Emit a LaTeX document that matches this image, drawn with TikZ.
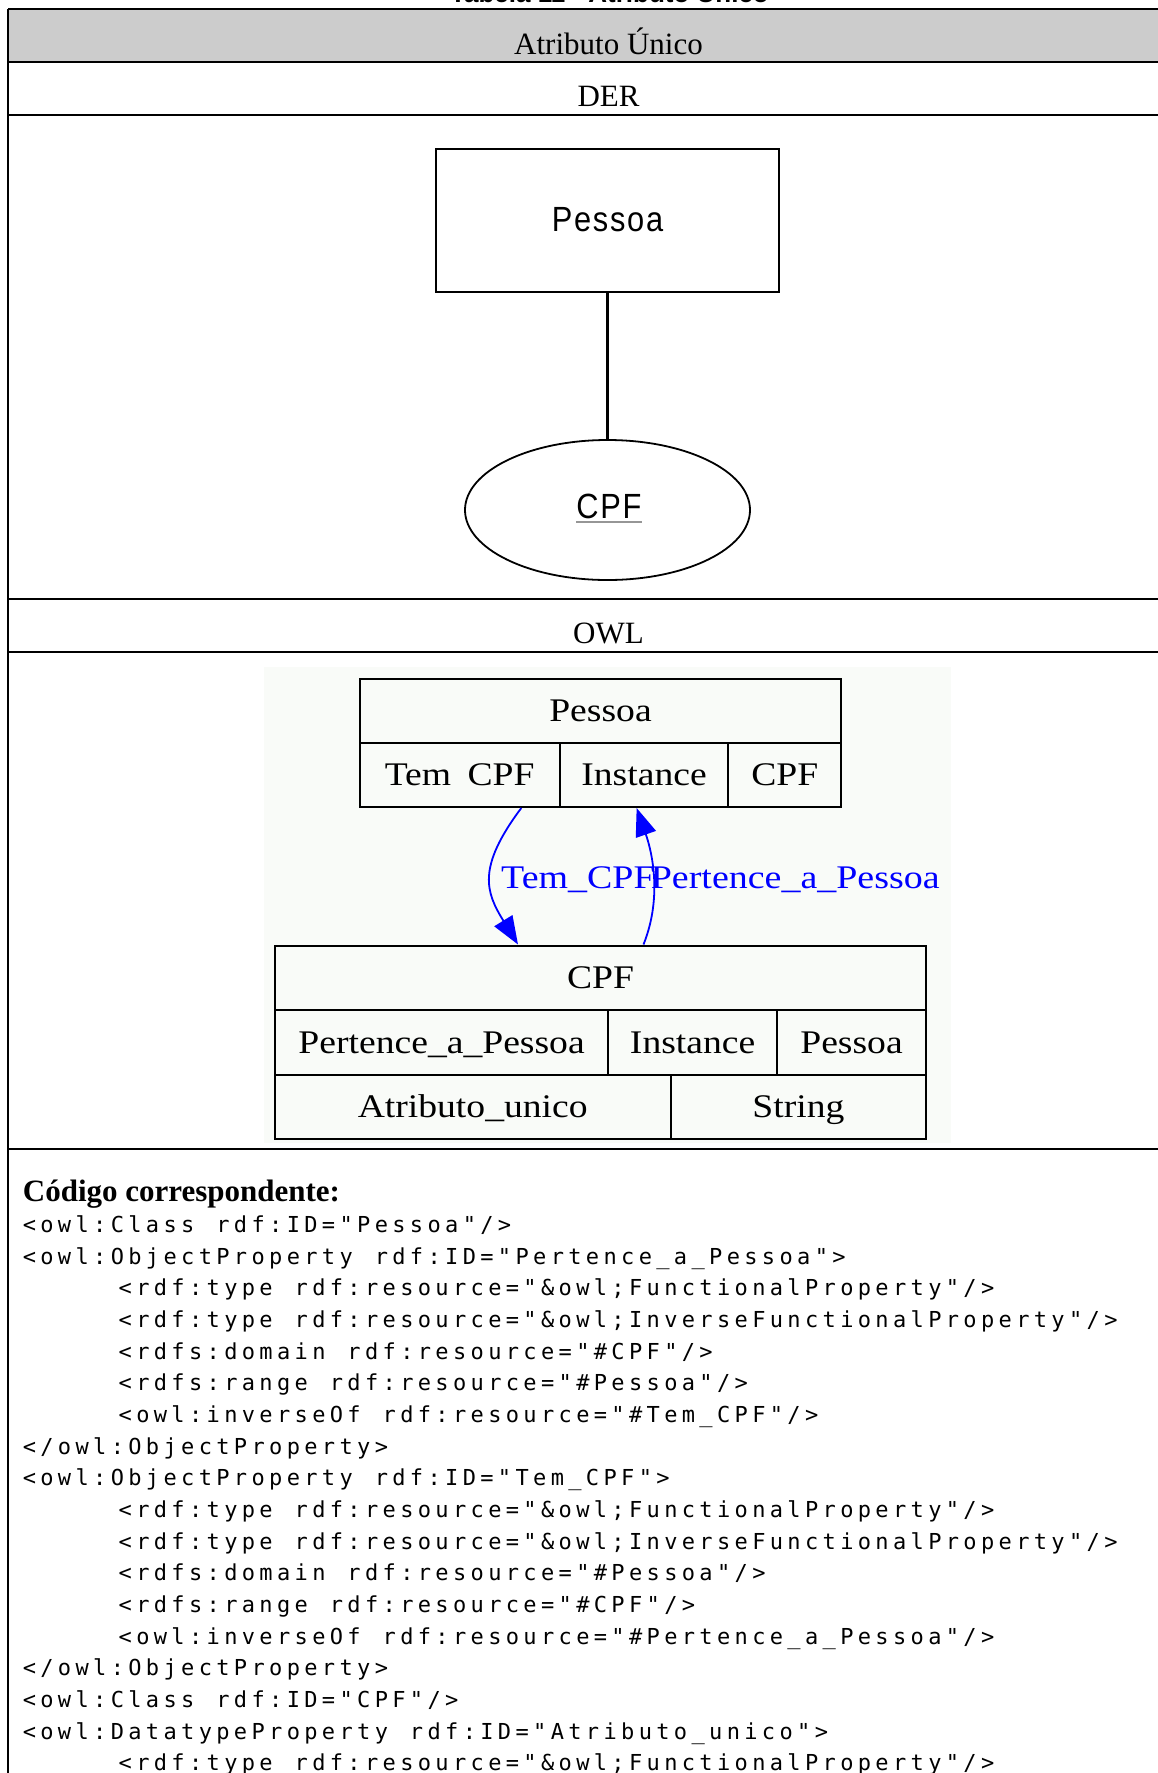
\documentclass[tikz,border=0pt]{standalone}
\usepackage{fontspec}
\setmainfont{Liberation Serif}
\newfontfamily\erfont{Liberation Sans}[FakeStretch=0.88,LetterSpace=5]
\newfontfamily\recfont{Liberation Serif}[FakeStretch=1.14]
\newfontfamily\relfont{Liberation Serif}[FakeStretch=1.15]
\newfontfamily\codefont{DejaVu Sans Mono}[LetterSpace=19.8]
\newfontfamily\capfont{Liberation Sans}
\usetikzlibrary{arrows.meta,shapes.geometric}
\definecolor{headgray}{RGB}{204,204,204}
\definecolor{owlbg}{RGB}{249,251,248}
\definecolor{relblue}{RGB}{0,0,255}
\definecolor{ulgray}{RGB}{150,150,150}
% one character cell of the listing plus the tracking lost at a word end
\newcommand\csp{\hspace{21.95pt}}
\tikzset{
  rule/.style={line width=2pt},
  headtext/.style={font=\fontsize{31pt}{31pt}\selectfont, anchor=base, inner sep=0pt},
  erbox/.style={draw, line width=2.6pt, inner sep=0pt,
    font=\erfont\fontsize{35pt}{35pt}\selectfont, text height=22.4pt, text depth=0pt},
  erattr/.style={draw, ellipse, line width=1.8pt, inner sep=0pt},
  ertext/.style={inner sep=0pt, font=\erfont\fontsize{35pt}{35pt}\selectfont, anchor=base},
  erlink/.style={line width=3.8pt},
  cell/.style={draw, line width=2pt, inner sep=0pt,
    font=\recfont\fontsize{33pt}{33pt}\selectfont, text height=21.8pt, text depth=0pt},
  rel/.style={draw=relblue, line width=1.8pt, -{Triangle[length=28pt,width=21pt]}},
  rellabel/.style={text=relblue, inner sep=0pt, font=\relfont\fontsize{33pt}{33pt}\selectfont},
  codeline/.style={anchor=base west, inner sep=0pt, font=\codefont\fontsize{22pt}{22pt}\selectfont},
}
\begin{document}
\begin{tikzpicture}[x=1pt,y=-1pt]
\useasboundingbox (0,0) rectangle (1158,1773);
\clip (0,0) rectangle (1158,1773);
\fill[white] (0,0) rectangle (1158,1773);

% caption above the table
\node[anchor=base, inner sep=0pt, font=\capfont\bfseries\fontsize{26pt}{26pt}\selectfont]
  (caption) at (609.5,2.5) {Tabela 11 - Atributo Único};

% table frame
\fill[headgray] (8,9.3) rectangle (1160,61.7);
\draw[rule] (8,9.3) -- (1160,9.3);
\draw[rule] (8,61.7) -- (1160,61.7);
\draw[rule] (8,114.5) -- (1160,114.5);
\draw[rule] (8,598.5) -- (1160,598.5);
\draw[rule] (8,651.7) -- (1160,651.7);
\draw[rule] (8,1148.5) -- (1160,1148.5);
\draw[rule] (8,9.3) -- (8,1775);

\node[headtext] (title) at (608.5,54) {Atributo Único};
\node[headtext] (der) at (608.5,106.7) {DER};
\node[headtext] (owl) at (608.5,643.3) {OWL};

% ER diagram
\node[erbox, minimum width=343pt, minimum height=143pt] (pessoaE) at (607.5,220.5) {Pessoa};
\node[erattr, minimum width=285pt, minimum height=140pt] (cpfE) at (607.5,510) {};
\node[ertext] (cpfT) at (609,518.3) {CPF};
\draw[ulgray, line width=2pt] ([yshift=-4pt]cpfT.base west) -- ([yshift=-4pt]cpfT.base east);
\draw[erlink] (pessoaE.south) -- (cpfE.north);

% OWL class graph
\fill[owlbg] (264,667) rectangle (951,1143);

\node[cell, minimum width=481.8pt, minimum height=64pt] (pHead) at (600.5,711) {Pessoa};
\node[cell, minimum width=200.2pt, minimum height=64pt] (temCPF) at (459.7,775) {Tem\hspace{0.5em}CPF};
\node[cell, minimum width=168.5pt, minimum height=64pt] (inst1) at (644.05,775) {Instance};
\node[cell, minimum width=113.1pt, minimum height=64pt] (cpf1) at (784.85,775) {CPF};

\node[cell, minimum width=651.4pt, minimum height=64.5pt] (cHead) at (600.5,977.75) {CPF};
\node[cell, minimum width=333.6pt, minimum height=64.5pt] (pertence) at (441.6,1042.25) {Pertence\_a\_Pessoa};
\node[cell, minimum width=168.5pt, minimum height=64.5pt] (inst2) at (692.65,1042.25) {Instance};
\node[cell, minimum width=149.3pt, minimum height=64.5pt] (pessoa2) at (851.55,1042.25) {Pessoa};
\node[cell, minimum width=395.8pt, minimum height=64.5pt] (atrib) at (472.7,1106.75) {Atributo\_unico};
\node[cell, minimum width=255.6pt, minimum height=64.5pt] (string) at (798.4,1106.75) {String};

\draw[rel] ([xshift=61.6pt]temCPF.south) .. controls +(-45,60) and +(-32,-52) .. ([xshift=-82.5pt]cHead.north);
\draw[rel] ([xshift=43pt]cHead.north) .. controls +(20,-50) and +(14,40) .. ([xshift=-7.4pt]inst1.south);

\node[rellabel, anchor=base west] (lblTem) at (501,888.3) {Tem\_CPF};
\node[rellabel, anchor=base east] (lblPert) at (939.8,888.3) {Pertence\_a\_Pessoa};

% OWL source listing
\node[anchor=base west, inner sep=0pt, font=\bfseries\fontsize{31pt}{31pt}\selectfont]
  (codehead) at (22.7,1201.7) {Código correspondente:};
\node[codeline] (c1) at (22.6,1232.5) {<owl:Class\csp rdf:ID="Pessoa"/>};
\node[codeline] (c2) at (22.6,1264.17) {<owl:ObjectProperty\csp rdf:ID="Pertence\_a\_Pessoa">};
\node[codeline] (c3) at (118.5,1295.84) {<rdf:type\csp rdf:resource="\&owl;FunctionalProperty"/>};
\node[codeline] (c4) at (118.5,1327.51) {<rdf:type\csp rdf:resource="\&owl;InverseFunctionalProperty"/>};
\node[codeline] (c5) at (118.5,1359.18) {<rdfs:domain\csp rdf:resource="\#CPF"/>};
\node[codeline] (c6) at (118.5,1390.85) {<rdfs:range\csp rdf:resource="\#Pessoa"/>};
\node[codeline] (c7) at (118.5,1422.52) {<owl:inverseOf\csp rdf:resource="\#Tem\_CPF"/>};
\node[codeline] (c8) at (22.6,1454.19) {</owl:ObjectProperty>};
\node[codeline] (c9) at (22.6,1485.86) {<owl:ObjectProperty\csp rdf:ID="Tem\_CPF">};
\node[codeline] (c10) at (118.5,1517.53) {<rdf:type\csp rdf:resource="\&owl;FunctionalProperty"/>};
\node[codeline] (c11) at (118.5,1549.2) {<rdf:type\csp rdf:resource="\&owl;InverseFunctionalProperty"/>};
\node[codeline] (c12) at (118.5,1580.87) {<rdfs:domain\csp rdf:resource="\#Pessoa"/>};
\node[codeline] (c13) at (118.5,1612.54) {<rdfs:range\csp rdf:resource="\#CPF"/>};
\node[codeline] (c14) at (118.5,1644.21) {<owl:inverseOf\csp rdf:resource="\#Pertence\_a\_Pessoa"/>};
\node[codeline] (c15) at (22.6,1675.88) {</owl:ObjectProperty>};
\node[codeline] (c16) at (22.6,1707.55) {<owl:Class\csp rdf:ID="CPF"/>};
\node[codeline] (c17) at (22.6,1739.22) {<owl:DatatypeProperty\csp rdf:ID="Atributo\_unico">};
\node[codeline] (c18) at (118.5,1770.89) {<rdf:type\csp rdf:resource="\&owl;FunctionalProperty"/>};
\end{tikzpicture}
\end{document}
